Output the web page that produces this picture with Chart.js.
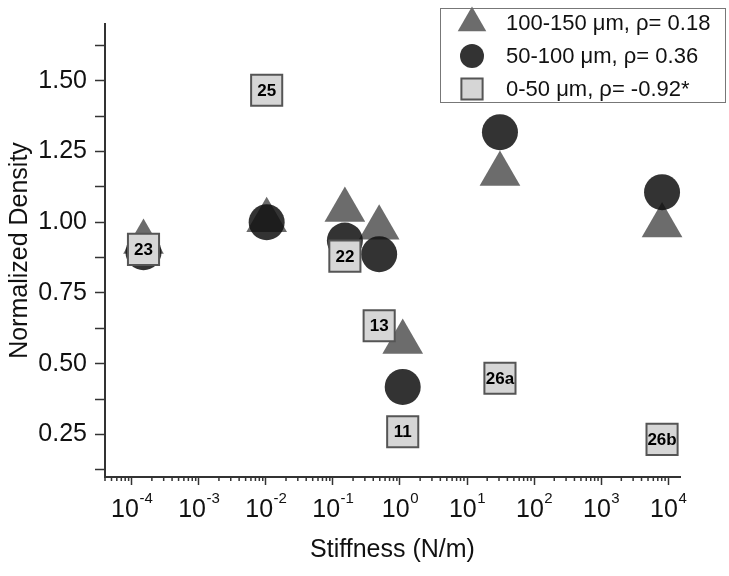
<!DOCTYPE html>
<html>
<head>
<meta charset="utf-8">
<script src="https://cdn.jsdelivr.net/npm/chart.js@4.4.1/dist/chart.umd.min.js"></script>
<style>
  body { margin: 0; background: #fff; }
</style>
</head>
<body>
<canvas id="myChart" width="729" height="576"></canvas>
<script>
// stiffness (N/m) of each sample, same order for all three series
const stiffness = [1.5e-4, 0.0103, 0.151, 0.49, 1.1, 31, 8100];
const sampleLabels = ["23", "25", "22", "13", "11", "26a", "26b"];

const density100to150 = [0.93, 1.007, 1.043, 0.98, 0.577, 1.17, 0.988];
const density50to100 = [0.894, 1.0, 0.935, 0.887, 0.418, 1.318, 1.106];
const density0to50 = [0.904, 1.466, 0.88, 0.634, 0.26, 0.449, 0.233];

const seriesNames = [
  "100-150 \u03bcm, \u03c1= 0.18",
  "50-100 \u03bcm, \u03c1= 0.36",
  "0-50 \u03bcm, \u03c1= -0.92*",
];

const yTicks = [0.125, 0.25, 0.375, 0.5, 0.625, 0.75, 0.875, 1.0, 1.125, 1.25, 1.375, 1.5, 1.625];

const FONT = "'Liberation Sans', Arial, sans-serif";

const toPoints = (ys) => ys.map((y, i) => ({ x: stiffness[i], y: y }));

const isDecade = (v) => Math.abs(Math.log10(v) - Math.round(Math.log10(v))) < 1e-9;

// numbers inside the square markers
const squareLabels = {
  id: "squareLabels",
  afterDatasetsDraw(chart) {
    const meta = chart.getDatasetMeta(2);
    const c = chart.ctx;
    c.save();
    c.font = "bold 17px " + FONT;
    c.fillStyle = "#000";
    c.textAlign = "center";
    c.textBaseline = "middle";
    meta.data.forEach((pt, i) => {
      c.fillText(sampleLabels[i], pt.x, pt.y + 1);
    });
    c.restore();
  },
};

// short minor ticks and 10^n labels on the log axis
const logAxisExtras = {
  id: "logAxisExtras",
  afterDraw(chart) {
    const s = chart.scales.x;
    const c = chart.ctx;
    c.save();
    c.strokeStyle = "#333";
    c.lineWidth = 1.5;
    c.fillStyle = "#111";
    c.textBaseline = "alphabetic";
    c.textAlign = "left";
    s.ticks.forEach((t) => {
      const px = s.getPixelForValue(t.value);
      if (!isDecade(t.value)) {
        c.beginPath();
        c.moveTo(px, s.top);
        c.lineTo(px, s.top + 4);
        c.stroke();
        return;
      }
      const base = "10";
      const exp = String(Math.round(Math.log10(t.value)));
      c.font = "25px " + FONT;
      const wb = c.measureText(base).width;
      c.font = "15px " + FONT;
      const we = c.measureText(exp).width;
      const x0 = px - (wb + we) / 2;
      c.font = "25px " + FONT;
      c.fillText(base, x0, s.top + 40);
      c.font = "15px " + FONT;
      c.fillText(exp, x0 + wb + 0.5, s.top + 26);
    });
    c.restore();
  },
};

// boxed legend sitting over the top right corner
const boxLegend = {
  id: "boxLegend",
  afterDraw(chart) {
    const c = chart.ctx;
    const left = chart.width - 289;
    const top = 8;
    c.save();
    c.fillStyle = "#fff";
    c.fillRect(left, top, 285, 94);
    c.strokeStyle = "#777";
    c.lineWidth = 1;
    c.strokeRect(left + 0.5, top + 0.5, 285, 94);
    const sizes = [16.5, 12, 15];
    chart.data.datasets.forEach((ds, i) => {
      const y = top + 15 + i * 33;
      c.fillStyle = ds.backgroundColor;
      c.strokeStyle = ds.borderColor;
      c.lineWidth = ds.borderWidth;
      Chart.helpers.drawPoint(c, { pointStyle: ds.pointStyle, radius: sizes[i], rotation: 0, borderWidth: ds.borderWidth }, left + 32, y);
      c.fillStyle = "#111";
      c.font = "22px " + FONT;
      c.textAlign = "left";
      c.textBaseline = "middle";
      c.fillText(ds.label, left + 66, y + 1);
    });
    c.restore();
  },
};

const ctx = document.getElementById("myChart").getContext("2d");
const myChart = new Chart(ctx, {
  type: "scatter",
  data: {
    datasets: [
      {
        label: seriesNames[0],
        data: toPoints(density100to150),
        pointStyle: "triangle",
        pointRadius: 23.5,
        backgroundColor: "#6c6c6c",
        borderColor: "#6c6c6c",
        borderWidth: 0,
        order: 3,
      },
      {
        label: seriesNames[1],
        data: toPoints(density50to100),
        pointStyle: "circle",
        pointRadius: 18,
        backgroundColor: "rgba(15,15,15,0.85)",
        borderColor: "rgba(15,15,15,0.85)",
        borderWidth: 0,
        order: 2,
      },
      {
        label: seriesNames[2],
        data: toPoints(density0to50),
        pointStyle: "rect",
        pointRadius: 22,
        backgroundColor: "#d6d6d6",
        borderColor: "#555",
        borderWidth: 2,
        order: 1,
      },
    ],
  },
  options: {
    responsive: false,
    animation: false,
    clip: false,
    layout: { padding: { top: 9, right: 49, left: 0, bottom: 0 } },
    plugins: {
      legend: { display: false },
      tooltip: { enabled: false },
    },
    scales: {
      x: {
        type: "logarithmic",
        min: 4e-5,
        max: 1.5e4,
        afterBuildTicks: (s) => {
          const t = [];
          for (let e = -5; e <= 4; e++) {
            for (let m = 1; m <= 9; m++) {
              const v = m * Math.pow(10, e);
              if (v >= s.min * 0.999 && v <= s.max) t.push({ value: v });
            }
          }
          s.ticks = t;
        },
        afterFit: (s) => { s.height = 99; },
        grid: {
          drawOnChartArea: false,
          tickLength: 8,
          tickWidth: 1.5,
          tickColor: (c) => (c.tick && isDecade(c.tick.value) ? "#333" : "rgba(0,0,0,0)"),
        },
        border: { color: "#333", width: 2 },
        ticks: { display: false, autoSkip: false },
        title: {
          display: true,
          text: "Stiffness (N/m)",
          color: "#111",
          font: { family: FONT, size: 25 },
          padding: { top: 0, bottom: 11 },
        },
      },
      y: {
        min: 0.1,
        max: 1.7,
        afterBuildTicks: (s) => {
          s.ticks = yTicks.map((v) => ({ value: v }));
        },
        afterFit: (s) => { s.width = 105; },
        grid: {
          drawOnChartArea: false,
          tickLength: 10,
          tickWidth: 1.5,
          tickColor: "#333",
        },
        border: { color: "#333", width: 2 },
        ticks: {
          padding: 8,
          color: "#111",
          font: { family: FONT, size: 25 },
          callback: function (value) {
            return Math.round(value * 1000) % 250 === 0 ? value.toFixed(2) : "";
          },
        },
        title: {
          display: true,
          text: "Normalized Density",
          color: "#111",
          font: { family: FONT, size: 25 },
          padding: { top: 5, bottom: 0 },
        },
      },
    },
  },
  plugins: [squareLabels, logAxisExtras, boxLegend],
});
</script>
</body>
</html>
